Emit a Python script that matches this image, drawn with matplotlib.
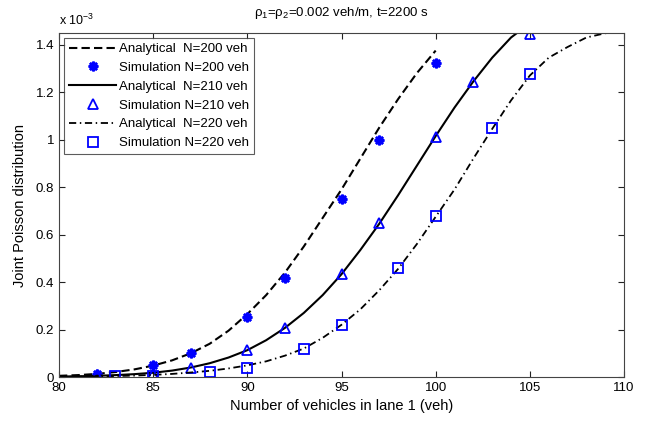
import numpy as np
import matplotlib
matplotlib.use("Agg")
import matplotlib.pyplot as plt
from matplotlib.ticker import FuncFormatter

plt.rcParams['font.family'] = ['Liberation Sans', 'DejaVu Sans']

# analytical curves (values in units of 1e-3)
x_an200 = np.arange(80, 101)
y_an200 = [0.005, 0.008, 0.013, 0.021, 0.032, 0.048, 0.07, 0.10, 0.14, 0.195, 0.265,
           0.345, 0.44, 0.55, 0.67, 0.79, 0.92, 1.05, 1.17, 1.28, 1.375]
x_an210 = np.arange(80, 106)
y_an210 = [0.002, 0.003, 0.005, 0.008, 0.012, 0.018, 0.027, 0.04, 0.058, 0.082, 0.113,
           0.155, 0.207, 0.27, 0.345, 0.433, 0.535, 0.645, 0.765, 0.89, 1.015,
           1.135, 1.245, 1.345, 1.43, 1.49]
x_an220 = np.arange(80, 111)
y_an220 = [0.001, 0.0015, 0.0025, 0.004, 0.006, 0.009, 0.013, 0.019, 0.026, 0.036, 0.049,
           0.066, 0.09, 0.12, 0.165, 0.22, 0.285, 0.365, 0.455, 0.56, 0.675,
           0.79, 0.92, 1.045, 1.165, 1.27, 1.345, 1.39, 1.43, 1.448, 1.455]

# simulation points
x_sim200 = [82, 85, 87, 90, 92, 95, 97, 100]
y_sim200 = [0.012, 0.05, 0.102, 0.254, 0.416, 0.75, 1.0, 1.321]
x_sim210 = [82, 85, 87, 90, 92, 95, 97, 100, 102, 105]
y_sim210 = [0.01, 0.012, 0.039, 0.113, 0.206, 0.433, 0.647, 1.013, 1.241, 1.446]
x_sim220 = [83, 85, 88, 90, 93, 95, 98, 100, 103, 105]
y_sim220 = [0.003, 0.005, 0.021, 0.04, 0.12, 0.221, 0.458, 0.678, 1.048, 1.277]

fig = plt.figure(figsize=(6.46, 4.21), dpi=100)
ax = fig.add_axes([0.0913, 0.1045, 0.8747, 0.8171])

blue = (0, 0, 1)
ax.plot(x_an200, y_an200, color='k', lw=1.5, dashes=(4, 2), label='Analytical  N=200 veh')
ax.plot(x_sim200, y_sim200, ls='none', marker=(8, 2, 0), ms=7, mew=1.8, color=blue,
        label='Simulation N=200 veh')
ax.plot(x_an210, y_an210, color='k', lw=1.5, label='Analytical  N=210 veh')
ax.plot(x_sim210, y_sim210, ls='none', marker='^', ms=7, mew=1.3, mfc='none', color=blue,
        label='Simulation N=210 veh')
ax.plot(x_an220, y_an220, color='k', lw=1.3, dashes=(4, 2, 0.8, 2), label='Analytical  N=220 veh')
ax.plot(x_sim220, y_sim220, ls='none', marker='s', ms=6.5, mew=1.3, mfc='none', color=blue,
        label='Simulation N=220 veh')

ax.set_xlim(80, 110)
ax.set_ylim(0, 1.449)
ax.set_xticks(range(80, 111, 5))
ax.set_yticks(np.arange(0, 1.41, 0.2))
ax.yaxis.set_major_formatter(FuncFormatter(lambda v, p: '%g' % round(v, 1)))
ax.tick_params(direction='in', top=True, right=True, labelsize=9.5, length=4, width=0.8,
               colors='#222222', labelcolor='k')
for s in ax.spines.values():
    s.set_color('#444444')
    s.set_linewidth(0.8)

ax.set_xlabel('Number of vehicles in lane 1 (veh)', fontsize=10.5, labelpad=4)
ax.set_ylabel('Joint Poisson distribution', fontsize=10.5, labelpad=6)
ax.set_title(r'$\mathregular{\rho_1}$=$\mathregular{\rho_2}$=0.002 veh/m, t=2200 s',
             fontsize=9.5, pad=12)
ax.text(0.0, 1.015, r'x 10$^{\mathregular{-3}}$', transform=ax.transAxes, fontsize=9,
        ha='left', va='bottom')

leg = ax.legend(loc='upper left', fontsize=9.5, frameon=True, fancybox=False,
                handlelength=3.6, borderaxespad=0.4, labelspacing=0.5,
                handletextpad=0.2, borderpad=0.35)
leg.get_frame().set_edgecolor('#333333')
leg.get_frame().set_linewidth(0.8)

fig.savefig('out.png', dpi=100)
